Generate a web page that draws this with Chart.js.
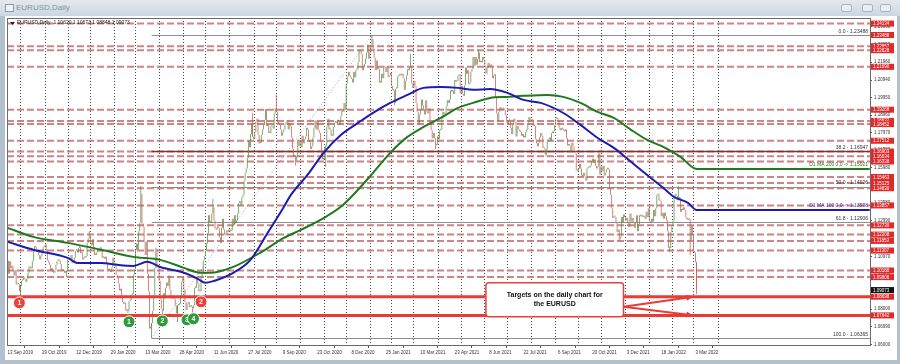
<!DOCTYPE html>
<html>
<head>
<meta charset="utf-8">
<title>EURUSD,Daily</title>
<script src="https://cdn.jsdelivr.net/npm/chart.js@4.4.1/dist/chart.umd.min.js"></script>
<style>
  html, body { margin: 0; padding: 0; }
  body { width: 900px; height: 364px; background: #b3c0cd; position: relative; overflow: hidden; font-family: "Liberation Sans", Arial, sans-serif; }
  #titlebar { position: absolute; left: 0; top: 0; width: 900px; height: 16px; background: linear-gradient(#e3e9ef, #ccd6e0); }
  #titlebar .icon { position: absolute; left: 5px; top: 4px; width: 7px; height: 6px; border: 1px solid #8d9bab; background: #eef2f6; }
  #titlebar .name { position: absolute; left: 16px; top: 3px; font-size: 8px; color: #8593a3; }
  #titlebar .btn { position: absolute; top: 4px; width: 9px; height: 6px; border: 1px solid #a7b3c0; border-radius: 2px; background: #e9eef3; }
  #panel { position: absolute; left: 5px; top: 16px; width: 892px; height: 344px; background: #fff; }
</style>
</head>
<body>
<div id="titlebar">
  <span class="icon"></span><span class="name">EURUSD,Daily</span>
  <span class="btn" style="left:841px"></span><span class="btn" style="left:862px"></span><span class="btn" style="left:880px"></span>
</div>
<div id="panel"><canvas id="chart" width="892" height="344"></canvas></div>
<script>
// x axis = bar number (0 = 13 Sep 2019, daily bars)
const dateLabelBars = [0, 32, 64, 96, 128, 160, 192, 224, 256, 288, 320, 352, 384, 416, 448, 480, 512, 544, 576, 608, 640];
const dateLabels = ['13 Sep 2019', '29 Oct 2019', '12 Dec 2019', '29 Jan 2020', '13 Mar 2020', '28 Apr 2020', '11 Jun 2020',
  '27 Jul 2020', '9 Sep 2020', '23 Oct 2020', '8 Dec 2020', '25 Jan 2021', '10 Mar 2021', '23 Apr 2021', '8 Jun 2021',
  '22 Jul 2021', '6 Sep 2021', '20 Oct 2021', '3 Dec 2021', '18 Jan 2022', '3 Mar 2022'];
// monthly period separators
const monthSepBars = [12, 35, 56, 77, 99, 119, 141, 163, 184, 206, 229, 250, 272, 294, 315, 337, 357, 377, 400, 422,
  443, 465, 487, 509, 531, 552, 574, 597, 618, 638, 661];
const yTickVals = [1.06000, 1.06990, 1.08000, 1.08990, 1.09980, 1.10970, 1.11980, 1.12990, 1.13980, 1.14970, 1.15980,
  1.16980, 1.17970, 1.18960, 1.19950, 1.20940, 1.21960, 1.22950, 1.23960];

// daily closes
const closes = [
  // Sep 2019
  1.1073, 1.1000, 1.1070, 1.1030, 1.1045, 1.1017, 1.0990, 1.1020, 1.0940, 1.0940, 1.0940, 1.0900,
  // Oct
  1.0930, 1.0960, 1.0965, 1.0975, 1.0970, 1.0955, 1.0970, 1.1005, 1.1040, 1.1030, 1.1030, 1.1070, 1.1125, 1.1155,
  1.1150, 1.1125, 1.1130, 1.1105, 1.1080, 1.1100, 1.1115, 1.1150, 1.1150,
  // Nov
  1.1165, 1.1130, 1.1075, 1.1065, 1.1050, 1.1020, 1.1030, 1.1010, 1.1005, 1.1020, 1.1050, 1.1070, 1.1075, 1.1075,
  1.1055, 1.1020, 1.1015, 1.1020, 1.1005, 1.1010, 1.1015,
  // Dec
  1.1080, 1.1080, 1.1080, 1.1105, 1.1060, 1.1065, 1.1090, 1.1130, 1.1130, 1.1120, 1.1145, 1.1150, 1.1115, 1.1120,
  1.1080, 1.1090, 1.1090, 1.1100, 1.1175, 1.1200, 1.1215,
  // Jan 2020
  1.1170, 1.1160, 1.1195, 1.1150, 1.1105, 1.1105, 1.1120, 1.1135, 1.1130, 1.1150, 1.1135, 1.1090, 1.1095, 1.1085,
  1.1095, 1.1055, 1.1025, 1.1020, 1.1020, 1.1010, 1.1035, 1.1090,
  // Feb
  1.1060, 1.1045, 1.0995, 1.0980, 1.0945, 1.0905, 1.0915, 1.0875, 1.0840, 1.0830, 1.0835, 1.0790, 1.0795, 1.0790,
  1.0845, 1.0850, 1.0880, 1.0885, 1.0995, 1.1025,
  // Mar
  1.1135, 1.1170, 1.1135, 1.1240, 1.1285, 1.1450, 1.1285, 1.1265, 1.1180, 1.1105, 1.1180, 1.1000, 1.0900, 1.0690,
  1.0700, 1.0720, 1.0790, 1.0880, 1.1030, 1.1140, 1.1045, 1.1030,
  // Apr
  1.0960, 1.0855, 1.0800, 1.0790, 1.0890, 1.0860, 1.0920, 1.0950, 1.0930, 1.0990, 1.0910, 1.0860, 1.0875, 1.0860,
  1.0855, 1.0820, 1.0775, 1.0820, 1.0825, 1.0830, 1.0875, 1.0955,
  // May
  1.0980, 1.0910, 1.0840, 1.0795, 1.0830, 1.0840, 1.0810, 1.0815, 1.0815, 1.0805, 1.0820, 1.0920, 1.0920, 1.0975,
  1.0945, 1.0900, 1.0900, 1.0980, 1.1010, 1.1075, 1.1100,
  // Jun
  1.1130, 1.1170, 1.1230, 1.1330, 1.1290, 1.1290, 1.1340, 1.1375, 1.1300, 1.1255, 1.1250, 1.1265, 1.1260, 1.1205,
  1.1175, 1.1260, 1.1310, 1.1250, 1.1220, 1.1220, 1.1245, 1.1235,
  // Jul
  1.1250, 1.1240, 1.1245, 1.1310, 1.1275, 1.1330, 1.1285, 1.1300, 1.1340, 1.1400, 1.1410, 1.1385, 1.1430, 1.1445,
  1.1525, 1.1570, 1.1595, 1.1655, 1.1750, 1.1715, 1.1790, 1.1845, 1.1775,
  // Aug
  1.1760, 1.1800, 1.1860, 1.1875, 1.1785, 1.1735, 1.1740, 1.1785, 1.1815, 1.1840, 1.1870, 1.1930, 1.1835, 1.1845,
  1.1795, 1.1795, 1.1835, 1.1835, 1.1820, 1.1905, 1.1935,
  // Sep
  1.1915, 1.1855, 1.1850, 1.1840, 1.1815, 1.1780, 1.1800, 1.1815, 1.1845, 1.1845, 1.1865, 1.1815, 1.1850, 1.1835,
  1.1770, 1.1705, 1.1660, 1.1670, 1.1630, 1.1665, 1.1745, 1.1720,
  // Oct
  1.1750, 1.1715, 1.1780, 1.1735, 1.1760, 1.1775, 1.1825, 1.1815, 1.1745, 1.1745, 1.1705, 1.1720, 1.1770, 1.1825,
  1.1865, 1.1815, 1.1860, 1.1810, 1.1795, 1.1745, 1.1670, 1.1645,
  // Nov
  1.1645, 1.1715, 1.1720, 1.1830, 1.1875, 1.1815, 1.1815, 1.1780, 1.1780, 1.1830, 1.1855, 1.1860, 1.1850, 1.1870,
  1.1860, 1.1840, 1.1890, 1.1920, 1.1915, 1.1965, 1.1925,
  // Dec
  1.2075, 1.2115, 1.2140, 1.2120, 1.2110, 1.2100, 1.2080, 1.2140, 1.2110, 1.2150, 1.2155, 1.2195, 1.2265, 1.2255,
  1.2240, 1.2150, 1.2165, 1.2185, 1.2215, 1.2250, 1.2295, 1.2215,
  // Jan 2021
  1.2250, 1.2295, 1.2325, 1.2270, 1.2220, 1.2150, 1.2205, 1.2155, 1.2155, 1.2080, 1.2080, 1.2130, 1.2105, 1.2165,
  1.2170, 1.2140, 1.2170, 1.2110, 1.2120, 1.2135,
  // Feb
  1.2060, 1.2040, 1.2035, 1.1965, 1.2045, 1.2050, 1.2115, 1.2120, 1.2130, 1.2120, 1.2130, 1.2105, 1.2040, 1.2090,
  1.2120, 1.2155, 1.2150, 1.2165, 1.2175, 1.2075,
  // Mar
  1.2050, 1.2090, 1.2060, 1.1965, 1.1915, 1.1845, 1.1900, 1.1925, 1.1985, 1.1950, 1.1930, 1.1900, 1.1980, 1.1915,
  1.1905, 1.1935, 1.1845, 1.1810, 1.1765, 1.1795, 1.1765, 1.1725, 1.1730,
  // Apr
  1.1775, 1.1760, 1.1810, 1.1815, 1.1875, 1.1915, 1.1900, 1.1910, 1.1945, 1.1980, 1.1965, 1.1985, 1.2035, 1.2030,
  1.2035, 1.2015, 1.2095, 1.2085, 1.2090, 1.2120, 1.2125, 1.2020,
  // May
  1.2060, 1.2015, 1.2005, 1.2065, 1.2165, 1.2130, 1.2150, 1.2070, 1.2080, 1.2140, 1.2155, 1.2225, 1.2175, 1.2225,
  1.2180, 1.2215, 1.2250, 1.2195, 1.2195, 1.2195, 1.2225,
  // Jun
  1.2210, 1.2175, 1.2130, 1.2165, 1.2190, 1.2170, 1.2180, 1.2175, 1.2105, 1.2120, 1.2125, 1.1995, 1.1905, 1.1860,
  1.1915, 1.1940, 1.1925, 1.1930, 1.1935, 1.1925, 1.1895, 1.1858,
  // Jul
  1.1845, 1.1865, 1.1865, 1.1825, 1.1790, 1.1845, 1.1875, 1.1860, 1.1775, 1.1835, 1.1815, 1.1805, 1.1800, 1.1780,
  1.1790, 1.1770, 1.1770, 1.1800, 1.1815, 1.1840, 1.1885, 1.1870,
  // Aug
  1.1865, 1.1870, 1.1835, 1.1835, 1.1760, 1.1735, 1.1720, 1.1740, 1.1770, 1.1795, 1.1780, 1.1710, 1.1710, 1.1675,
  1.1700, 1.1745, 1.1760, 1.1770, 1.1750, 1.1795, 1.1795, 1.1805,
  // Sep
  1.1840, 1.1875, 1.1880, 1.1870, 1.1825, 1.1810, 1.1825, 1.1815, 1.1810, 1.1805, 1.1815, 1.1765, 1.1725, 1.1725,
  1.1725, 1.1690, 1.1740, 1.1720, 1.1695, 1.1680, 1.1585, 1.1580,
  // Oct
  1.1595, 1.1620, 1.1595, 1.1555, 1.1550, 1.1570, 1.1550, 1.1530, 1.1595, 1.1600, 1.1600, 1.1610, 1.1635, 1.1650,
  1.1625, 1.1645, 1.1610, 1.1595, 1.1605, 1.1680, 1.1560,
  // Nov
  1.1605, 1.1580, 1.1610, 1.1555, 1.1570, 1.1590, 1.1595, 1.1590, 1.1480, 1.1445, 1.1370, 1.1315, 1.1320, 1.1320,
  1.1290, 1.1235, 1.1250, 1.1195, 1.1210, 1.1320, 1.1290, 1.1335,
  // Dec
  1.1320, 1.1300, 1.1315, 1.1285, 1.1265, 1.1340, 1.1295, 1.1315, 1.1285, 1.1260, 1.1290, 1.1330, 1.1240, 1.1280,
  1.1330, 1.1325, 1.1330, 1.1320, 1.1325, 1.1310, 1.1350, 1.1320, 1.1370,
  // Jan 2022
  1.1295, 1.1285, 1.1310, 1.1295, 1.1360, 1.1325, 1.1370, 1.1445, 1.1450, 1.1415, 1.1410, 1.1325, 1.1345, 1.1310,
  1.1345, 1.1325, 1.1300, 1.1240, 1.1145, 1.1145, 1.1235,
  // Feb
  1.1270, 1.1300, 1.1440, 1.1450, 1.1440, 1.1415, 1.1425, 1.1430, 1.1350, 1.1365, 1.1360, 1.1375, 1.1360, 1.1320,
  1.1305, 1.1305, 1.1310, 1.1190, 1.1270, 1.1220,
  // Mar 2022
  1.1125, 1.1120, 1.1065, 1.0907
];

// notable highs / lows (wicks)
const wickBars = [12, 55, 76, 112, 124, 134, 138, 144, 158, 172, 191, 228, 250, 268, 296, 339, 360, 375, 398, 438, 501, 538, 569, 616, 624, 635, 641, 641];
const wickPrices = [1.0879, 1.0981, 1.1239, 1.0778, 1.1495, 1.0636, 1.1147, 1.0768, 1.0727, 1.0775, 1.1422, 1.1908, 1.2011, 1.1612, 1.1603, 1.2349, 1.1952, 1.2243, 1.1704, 1.2266, 1.1664, 1.1524, 1.1186, 1.1121, 1.1495, 1.1106, 1.0885, 1.1067];

// 100 and 200 day moving averages
const ma100Bars = [0, 24, 56, 65, 87, 102, 117, 130, 142, 164, 177, 184, 192, 210, 226, 242, 257, 263, 279, 294, 310, 326, 340,
  356, 372, 387, 403, 419, 433, 449, 465, 480, 496, 517, 533, 549, 564, 580, 595, 610, 620, 633, 641, 802];
const ma100 = [1.1180, 1.1135, 1.1089, 1.1061, 1.1061, 1.1050, 1.1044, 1.1067, 1.1038, 1.1005, 1.0971, 1.0948, 1.0959, 1.1005,
  1.1078, 1.1231, 1.1377, 1.1440, 1.1558, 1.1683, 1.1784, 1.1852, 1.1909, 1.1965, 1.2010, 1.2050, 1.2055, 1.2050, 1.2039,
  1.2044, 1.2022, 1.1982, 1.1965, 1.1908, 1.1841, 1.1767, 1.1711, 1.1632, 1.1558, 1.1485, 1.1434, 1.1400, 1.1360, 1.1360];
const ma200Bars = [0, 24, 56, 87, 117, 142, 164, 180, 195, 210, 235, 257, 273, 291, 310, 326, 340, 356, 372, 387, 403, 419, 433,
  449, 465, 480, 502, 517, 533, 549, 564, 580, 595, 610, 626, 641, 802];
const ma200 = [1.1259, 1.1208, 1.1174, 1.1135, 1.1095, 1.1078, 1.1033, 1.1005, 1.1010, 1.1038, 1.1118, 1.1202, 1.1248, 1.1304,
  1.1378, 1.1474, 1.1570, 1.1683, 1.1773, 1.1829, 1.1880, 1.1937, 1.1965, 1.1993, 1.1999, 1.2005, 1.2010, 1.1999, 1.1965,
  1.1914, 1.1880, 1.1813, 1.1756, 1.1716, 1.1660, 1.1592, 1.1592];

// horizontal levels
const levelPrices = [1.24134, 1.22857, 1.22628, 1.21690, 1.19268, 1.18632, 1.18452, 1.17512, 1.16903, 1.16634, 1.16338,
  1.15463, 1.15125, 1.14830, 1.13857, 1.12730, 1.12208, 1.11853, 1.11307, 1.10180, 1.09806];
const targetPrices = [1.08698, 1.07642];
const extraTagPrices = [1.23488];
const lastPrice = 1.09073;

// fibonacci retracement 23 Mar 2020 low -> 6 Jan 2021 high
const fibLevels = ['0.0', '38.2', '50.0', '61.8', '100.0'];
const fibPrices = [1.23488, 1.16947, 1.14926, 1.12906, 1.06365];
const fibBars = [134, 339];

// numbered touches
const redMarkBars = [11, 180];
const redMarkPrices = [1.0835, 1.0841];
const greenMarkBars = [113, 144, 167, 173];
const greenMarkPrices = [1.0728, 1.0733, 1.0739, 1.0745];

// callout
const noteLines = ['Targets on the daily chart for', 'the EURUSD'];
const noteBars = [445, 573];
const notePrices = [1.0948, 1.0756];
const arrowFrom = [573, 1.0813];
const arrowBar = 638;

const header = 'EURUSD,Daily  1.10620 1.10673 1.08848 1.09073';
const maTags = ['D1 MA 200 0,0 -> 1.15921', 'D1 MA 100 0,0 -> 1.13598'];

const UP = '#4a9a4a', DOWN = '#cf5c5c';
const FONT = '"Liberation Sans", Arial, sans-serif';

const candles = closes.map((c, i) => ({ x: i, y: [i ? closes[i - 1] : c, c] }));
const candleColor = (i) => (i === 0 || closes[i] >= closes[i - 1]) ? UP : DOWN;
const wicks = wickBars.map((b, i) => ({ x: b, y: [closes[b], wickPrices[i]] }));

const overlay = {
  id: 'overlay',
  beforeDatasetsDraw(chart) {
    const { ctx, chartArea: a, scales: { x, y } } = chart;
    ctx.save();
    ctx.beginPath(); ctx.rect(a.left, a.top, a.width, a.height); ctx.clip();
    // period separators
    ctx.strokeStyle = '#4a4a4a'; ctx.lineWidth = 1; ctx.setLineDash([1, 2]);
    monthSepBars.forEach(b => {
      const X = Math.round(x.getPixelForValue(b)) + 0.5;
      ctx.beginPath(); ctx.moveTo(X, a.top); ctx.lineTo(X, a.bottom); ctx.stroke();
    });
    // dashed levels
    ctx.strokeStyle = 'rgba(196,112,112,0.85)'; ctx.lineWidth = 2; ctx.setLineDash([7, 3]);
    levelPrices.forEach(p => {
      const Y = y.getPixelForValue(p);
      ctx.beginPath(); ctx.moveTo(a.left, Y); ctx.lineTo(a.right, Y); ctx.stroke();
    });
    // fib levels
    ctx.setLineDash([]);
    const fx = x.getPixelForValue(fibBars[0]);
    fibPrices.forEach((p, i) => {
      const Y = Math.round(y.getPixelForValue(p)) + 0.5;
      ctx.strokeStyle = i === 1 ? '#7e3434' : '#8e8e8e';
      ctx.lineWidth = i === 1 ? 1.5 : 1;
      ctx.beginPath(); ctx.moveTo(fx, Y); ctx.lineTo(a.right, Y); ctx.stroke();
    });
    ctx.restore();
  },
  afterDatasetsDraw(chart) {
    const { ctx, chartArea: a, scales: { x, y } } = chart;
    ctx.save();
    ctx.beginPath(); ctx.rect(a.left, a.top, a.width, a.height); ctx.clip();
    // target lines
    ctx.strokeStyle = '#ec3a35'; ctx.lineWidth = 3;
    targetPrices.forEach(p => {
      const Y = y.getPixelForValue(p);
      ctx.beginPath(); ctx.moveTo(a.left, Y); ctx.lineTo(a.right, Y); ctx.stroke();
    });
    // fib texts
    ctx.font = '5px ' + FONT; ctx.fillStyle = '#333'; ctx.textAlign = 'right'; ctx.textBaseline = 'bottom';
    fibPrices.forEach((p, i) => {
      ctx.fillText(fibLevels[i] + ' - ' + p.toFixed(5), a.right - 2, y.getPixelForValue(p) - 1);
    });
    // MA tags
    ctx.fillStyle = '#3d6b1e';
    ctx.fillText(maTags[0], a.right - 2, y.getPixelForValue(ma200[ma200.length - 1]) - 2);
    ctx.fillStyle = '#4b2f9a';
    ctx.fillText(maTags[1], a.right - 2, y.getPixelForValue(ma100[ma100.length - 1]) - 2);
    // markers
    const mark = (b, p, n, col) => {
      const X = x.getPixelForValue(b), Y = y.getPixelForValue(p);
      ctx.beginPath(); ctx.arc(X, Y, 6, 0, Math.PI * 2);
      ctx.fillStyle = col; ctx.fill();
      ctx.strokeStyle = '#fff'; ctx.lineWidth = 1; ctx.stroke();
      ctx.fillStyle = '#fff'; ctx.font = 'bold 7px ' + FONT; ctx.textAlign = 'center'; ctx.textBaseline = 'middle';
      ctx.fillText(n, X, Y + 0.5);
    };
    redMarkBars.forEach((b, i) => mark(b, redMarkPrices[i], String(i + 1), '#e8443c'));
    greenMarkBars.forEach((b, i) => mark(b, greenMarkPrices[i], String(i + 1), '#2f9a3a'));
    // arrows
    const ax = x.getPixelForValue(arrowFrom[0]), ay = y.getPixelForValue(arrowFrom[1]);
    const tx = x.getPixelForValue(arrowBar);
    ctx.strokeStyle = '#ec3a35'; ctx.fillStyle = '#ec3a35'; ctx.lineWidth = 2;
    targetPrices.forEach(p => {
      const ty = y.getPixelForValue(p);
      const ang = Math.atan2(ty - ay, tx - ax);
      ctx.beginPath(); ctx.moveTo(ax, ay); ctx.lineTo(tx - 5 * Math.cos(ang), ty - 5 * Math.sin(ang)); ctx.stroke();
      ctx.beginPath();
      ctx.moveTo(tx, ty);
      ctx.lineTo(tx - 7 * Math.cos(ang) + 3 * Math.sin(ang), ty - 7 * Math.sin(ang) - 3 * Math.cos(ang));
      ctx.lineTo(tx - 7 * Math.cos(ang) - 3 * Math.sin(ang), ty - 7 * Math.sin(ang) + 3 * Math.cos(ang));
      ctx.closePath(); ctx.fill();
    });
    // callout box
    const bx0 = x.getPixelForValue(noteBars[0]), bx1 = x.getPixelForValue(noteBars[1]);
    const by0 = y.getPixelForValue(notePrices[0]), by1 = y.getPixelForValue(notePrices[1]);
    ctx.beginPath(); ctx.roundRect(bx0, by0, bx1 - bx0, by1 - by0, 3);
    ctx.fillStyle = '#fff'; ctx.fill();
    ctx.strokeStyle = '#e8403a'; ctx.lineWidth = 1.5; ctx.stroke();
    ctx.fillStyle = '#111'; ctx.font = 'bold 7px ' + FONT; ctx.textAlign = 'center'; ctx.textBaseline = 'middle';
    const cy = (by0 + by1) / 2;
    ctx.fillText(noteLines[0], (bx0 + bx1) / 2, cy - 4.5);
    ctx.fillText(noteLines[1], (bx0 + bx1) / 2, cy + 4.5);
    ctx.restore();

    // header text
    ctx.save();
    ctx.fillStyle = '#222';
    ctx.beginPath(); ctx.moveTo(a.left + 3, a.top + 4); ctx.lineTo(a.left + 8, a.top + 4); ctx.lineTo(a.left + 5.5, a.top + 7); ctx.fill();
    ctx.font = '5px ' + FONT; ctx.textAlign = 'left'; ctx.textBaseline = 'middle';
    ctx.fillText(header, a.left + 10, a.top + 5);
    ctx.restore();
  },
  afterDraw(chart) {
    const { ctx, chartArea: a, scales: { y } } = chart;
    ctx.save();
    ctx.strokeStyle = '#6a6a6a'; ctx.lineWidth = 1;
    ctx.strokeRect(Math.round(a.left) + 0.5, Math.round(a.top) + 0.5, Math.round(a.width), Math.round(a.height));
    ctx.font = '4.5px ' + FONT; ctx.textAlign = 'left'; ctx.textBaseline = 'middle';
    const tag = (p, bg) => {
      const Y = y.getPixelForValue(p);
      ctx.fillStyle = bg; ctx.fillRect(a.right + 1, Y - 3, 23, 6);
      ctx.fillStyle = '#fff'; ctx.fillText(p.toFixed(5), a.right + 3, Y + 0.3);
    };
    levelPrices.concat(extraTagPrices, targetPrices).forEach(p => tag(p, '#e02a2a'));
    tag(lastPrice, '#111');
    ctx.restore();
  }
};

new Chart(document.getElementById('chart'), {
  type: 'bar',
  data: {
    datasets: [
      { type: 'line', data: ma100Bars.map((b, i) => ({ x: b, y: ma100[i] })), borderColor: '#1c1cb0', borderWidth: 2,
        pointRadius: 0, cubicInterpolationMode: 'monotone', order: 1 },
      { type: 'line', data: ma200Bars.map((b, i) => ({ x: b, y: ma200[i] })), borderColor: '#1f7a1f', borderWidth: 2,
        pointRadius: 0, cubicInterpolationMode: 'monotone', order: 1 },
      { type: 'line', data: fibBars.map((b, i) => ({ x: b, y: fibPrices[i === 0 ? 4 : 0] })), borderColor: '#a0a0a0',
        borderWidth: 1, borderDash: [1, 2], pointRadius: 0, order: 4 },
      { data: wicks, backgroundColor: wickBars.map(b => candleColor(b)), grouped: false, maxBarThickness: 1, order: 2 },
      { data: candles, backgroundColor: closes.map((c, i) => candleColor(i)), grouped: false, maxBarThickness: 1.6,
        minBarLength: 1.5, order: 3 }
    ]
  },
  options: {
    responsive: false,
    animation: false,
    devicePixelRatio: 1,
    layout: { padding: { left: 2, top: 2, right: 0, bottom: 0 } },
    plugins: { legend: { display: false }, tooltip: { enabled: false } },
    scales: {
      x: {
        type: 'linear', min: -0.5, max: 802.3, offset: false,
        afterBuildTicks: s => { s.ticks = dateLabelBars.map(v => ({ value: v })); },
        afterFit: s => { s.height = 15; s.paddingLeft = 0; s.paddingRight = 0; },
        ticks: { autoSkip: false, maxRotation: 0, align: 'start', padding: 2, color: '#333',
          font: { size: 4.5, family: FONT }, callback: (v, i) => dateLabels[i] },
        grid: { drawOnChartArea: false, tickLength: 3, color: '#555' },
        border: { color: '#6a6a6a' }
      },
      y: {
        position: 'right', min: 1.05969, max: 1.24449,
        afterBuildTicks: s => { s.ticks = yTickVals.map(v => ({ value: v })); },
        afterFit: s => { s.width = 27; s.paddingTop = 0; s.paddingBottom = 0; },
        ticks: { padding: 2, color: '#333', font: { size: 4.5, family: FONT }, callback: v => v.toFixed(5) },
        grid: { drawOnChartArea: false, tickLength: 2, color: '#555' },
        border: { color: '#6a6a6a' }
      }
    }
  },
  plugins: [overlay]
});
</script>
</body>
</html>
